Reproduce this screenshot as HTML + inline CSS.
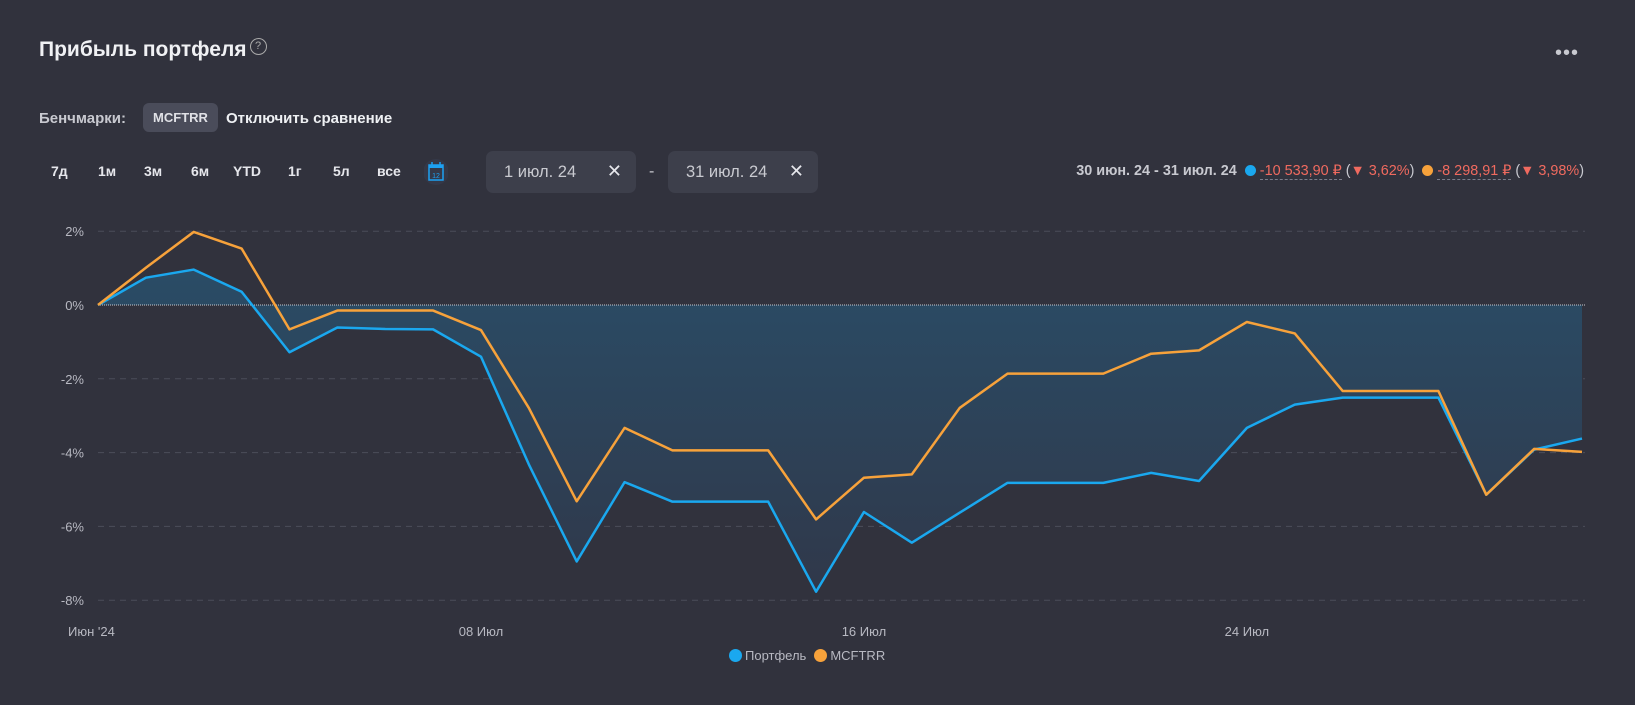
<!DOCTYPE html>
<html><head><meta charset="utf-8"><style>
body{margin:0;width:1635px;height:705px;background:#31323d;overflow:hidden;font-family:"Liberation Sans","DejaVu Sans",sans-serif;color:#e6e7ec;position:relative}
.a{position:absolute;white-space:nowrap}
.title{left:39px;top:38px;font-size:21px;font-weight:bold;color:#f0f1f4}
.q{display:inline-block;width:15px;height:15px;border:1px solid #aaa;border-radius:50%;font-size:11px;text-align:center;line-height:15px;color:#aaa;vertical-align:top;margin-left:3px;font-weight:normal}
.lbl{font-size:15px;font-weight:bold;color:#c8c9d0}
.pill{left:143px;top:103px;width:75px;height:29px;background:#4a4c5a;border-radius:6px;font-size:13px;font-weight:bold;color:#e0e1e6;text-align:center;line-height:29px}
.per{top:163px;font-size:14px;font-weight:bold;color:#e6e7ec}
.box{top:151px;height:42px;width:150px;background:#3d3f4b;border-radius:7px}
.box span{position:absolute;left:18px;top:12px;font-size:16.5px;color:#c9cad0}
.box b{position:absolute;right:14px;top:10px;font-size:18px;font-weight:normal;color:#e6e7ec}
.sum{right:51px;top:163px;font-size:14.4px;color:#c8c9d0}
.red{color:#f06a5f}
.u{border-bottom:1px dashed #7a7c8a}
.dot{display:inline-block;width:11px;height:11px;border-radius:50%;vertical-align:-1px;margin:0 4px 0 8px}
</style></head><body>
<div class="a title">Прибыль портфеля<span class="q">?</span></div>
<div class="a" style="left:1555px;top:42px;font-size:20px;color:#c8c9d0;letter-spacing:1px">•••</div>
<div class="a lbl" style="left:39px;top:110px">Бенчмарки:</div>
<div class="a pill">MCFTRR</div>
<div class="a lbl" style="left:226px;top:110px;color:#eef0f3">Отключить сравнение</div>
<div class="a per" style="left:51px">7д</div>
<div class="a per" style="left:98px">1м</div>
<div class="a per" style="left:144px">3м</div>
<div class="a per" style="left:191px">6м</div>
<div class="a per" style="left:233px">YTD</div>
<div class="a per" style="left:288px">1г</div>
<div class="a per" style="left:333px">5л</div>
<div class="a per" style="left:377px">все</div>
<svg class="a" style="left:424px;top:159px" width="24" height="26"><circle cx="12" cy="13" r="13" fill="#343848"/><rect x="5" y="6" width="14" height="15" fill="none" stroke="#1da1f2" stroke-width="1.5"/><rect x="5" y="6" width="14" height="3" fill="#1da1f2"/><line x1="8" y1="3" x2="8" y2="7" stroke="#1da1f2" stroke-width="1.5"/><line x1="16" y1="3" x2="16" y2="7" stroke="#1da1f2" stroke-width="1.5"/><text x="12" y="19" font-size="7" fill="#1da1f2" text-anchor="middle" font-family="Liberation Sans">12</text></svg>
<div class="a box" style="left:486px"><span>1 июл. 24</span><b>✕</b></div>
<div class="a" style="left:649px;top:163px;font-size:16px;color:#c9cad0">-</div>
<div class="a box" style="left:668px"><span>31 июл. 24</span><b>✕</b></div>
<div class="a sum"><b style="font-weight:bold">30 июн. 24 - 31 июл. 24</b><span class="dot" style="background:#1aa8ef"></span><span class="red u">-10 533,90 ₽</span> (<span class="red">▼ 3,62%</span>)<span class="dot" style="background:#f7a23b"></span><span class="red u">-8 298,91 ₽</span> (<span class="red">▼ 3,98%</span>)</div>
<svg id="ch" class="a" style="left:0;top:0" width="1635" height="705">
<defs><linearGradient id="g" x1="0" y1="0" x2="0" y2="1"><stop offset="0" stop-color="#2a4c66"/><stop offset="1" stop-color="#30384a"/></linearGradient></defs>
</svg>
<script>
const days=["30.06","01.07","02.07","03.07","04.07","05.07","06.07","07.07","08.07","09.07","10.07","11.07","12.07","13.07","14.07","15.07","16.07","17.07","18.07","19.07","20.07","21.07","22.07","23.07","24.07","25.07","26.07","27.07","28.07","29.07","30.07","31.07"];
const portfolio=[0,0.74,0.96,0.36,-1.28,-0.61,-0.65,-0.66,-1.40,-4.32,-6.95,-4.80,-5.33,-5.33,-5.33,-7.77,-5.61,-6.44,-5.63,-4.82,-4.82,-4.82,-4.55,-4.77,-3.33,-2.70,-2.51,-2.51,-2.51,-5.14,-3.92,-3.62];
const benchmark=[0,1.01,1.98,1.53,-0.66,-0.15,-0.15,-0.15,-0.68,-2.79,-5.32,-3.33,-3.94,-3.94,-3.94,-5.81,-4.68,-4.59,-2.79,-1.86,-1.86,-1.86,-1.32,-1.23,-0.46,-0.77,-2.33,-2.33,-2.33,-5.14,-3.90,-3.98];
const yTicks=[2,0,-2,-4,-6,-8];
const xTickIdx=[8,16,24];
const xTickLabels=["08 Июл","16 Июл","24 Июл"];
const NS="http://www.w3.org/2000/svg",svg=document.getElementById('ch');
const X0=98,X1=1582,Y0=305,PY=36.9;
const x=i=>X0+(X1-X0)*i/(days.length-1), y=v=>Y0-v*PY;
function el(t,a){const e=document.createElementNS(NS,t);for(const k in a)e.setAttribute(k,a[k]);svg.appendChild(e);return e;}
yTicks.forEach(v=>{
 if(v!==0){const l=el('line',{x1:X0,x2:1585,y1:y(v),y2:y(v),stroke:'#4b4d5a','stroke-dasharray':'6 5'});
 
 }
 const t=el('text',{x:84,y:y(v)+5,'text-anchor':'end','font-size':13,fill:'#b8b9c2','font-family':'Liberation Sans'});t.textContent=v+'%';
 
 
});
let d='M'+x(0)+','+y(0);portfolio.forEach((v,i)=>d+=' L'+x(i)+','+y(v));d+=' L'+x(days.length-1)+','+y(0)+' Z';
const ar=el('path',{d:d,fill:'url(#g)'});


const zl=el('line',{x1:X0,x2:1585,y1:y(0),y2:y(0),stroke:'#c8c9d0','stroke-dasharray':'1 1'});


function line(arr,c,n){const p=el('polyline',{points:arr.map((v,i)=>x(i)+','+y(v)).join(' '),fill:'none',stroke:c,'stroke-width':2.5,'stroke-linejoin':'round'});
 
 }
line(portfolio,'#1aa8ef','portfolio-line');
line(benchmark,'#f7a23b','benchmark-line');
const t0=el('text',{x:68,y:636,'font-size':13,fill:'#b8b9c2','font-family':'Liberation Sans'});t0.textContent="Июн '24";


xTickIdx.forEach((i,k)=>{const t=el('text',{x:x(i),y:636,'text-anchor':'middle','font-size':13,fill:'#b8b9c2','font-family':'Liberation Sans'});t.textContent=xTickLabels[k];
 
 });
</script>
<div class="a" style="left:729px;top:648px;font-size:13px;color:#b8b9c2"><span><span class="dot" style="background:#1aa8ef;width:13px;height:13px;margin:0 3px 0 0;vertical-align:-2px"></span>Портфель</span><span><span class="dot" style="background:#f7a23b;width:13px;height:13px;margin:0 3px 0 8px;vertical-align:-2px"></span>MCFTRR</span></div>
</body></html>
